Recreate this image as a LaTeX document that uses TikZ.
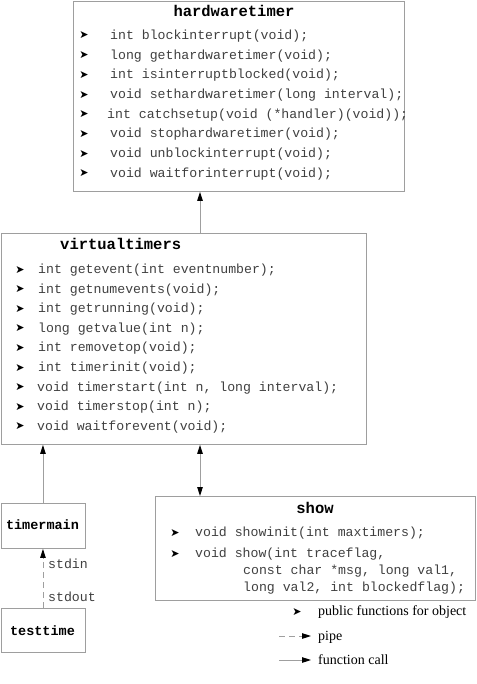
\documentclass[tikz,border=0pt]{standalone}
\usepackage{fontspec}
\setmainfont{Liberation Serif}
\setmonofont{Liberation Mono}
\newfontfamily\bulletfont{DejaVu Sans}
\usetikzlibrary{arrows.meta}
\definecolor{framegray}{gray}{0.62}
\definecolor{codegray}{gray}{0.25}

\tikzset{
  objbox/.style = {draw = framegray, line width = 0.9pt, inner sep = 0pt, anchor = north west},
  objtitle/.style = {font = \fontsize{15.5}{16}\ttfamily\bfseries, anchor = base, inner sep = 0pt},
  procname/.style = {font = \fontsize{13.5}{14}\ttfamily\bfseries, anchor = base, inner sep = 0pt},
  func/.style = {font = \fontsize{13.2}{14}\ttfamily, text = codegray, anchor = base west, inner sep = 0pt},
  bul/.style = {font = \fontsize{11}{11}\bulletfont, anchor = base, inner sep = 0pt},
  legend/.style = {font = \fontsize{14}{15}\selectfont, anchor = base west, inner sep = 0pt},
  tip/.tip = {Triangle[length = 9pt, width = 5.5pt, black]},
  call/.style = {draw = gray!75, line width = 0.9pt, -tip},
  pipe/.style = {call, dash pattern = on 6pt off 4pt},
}

\begin{document}
\begin{tikzpicture}[x = 1pt, y = -1pt]
        \useasboundingbox (0, 0) rectangle (476, 684);
        % boxes
        \node[objbox, minimum width = 331pt, minimum height = 190pt] (hw) at (73, 1) {};
        \node[objbox, minimum width = 365.5pt, minimum height = 211pt] (vt) at (0.5, 233) {};
        \node[objbox, minimum width = 84pt, minimum height = 45pt] (tm) at (0.5, 503) {};
        \node[objbox, minimum width = 84pt, minimum height = 44pt] (tt) at (0.5, 608) {};
        \node[objbox, minimum width = 320pt, minimum height = 104pt] (sh) at (155, 496) {};
        % hardwaretimer
        \node[objtitle] (hwt) at (234, 17) {hardwaretimer};
        \node[bul] (hwb1) at (84, 39) {➤};
        \node[bul] (hwb2) at (84, 58.7) {➤};
        \node[bul] (hwb3) at (84, 78.4) {➤};
        \node[bul] (hwb4) at (84, 98.1) {➤};
        \node[bul] (hwb5) at (84, 117.8) {➤};
        \node[bul] (hwb6) at (84, 137.5) {➤};
        \node[bul] (hwb7) at (84, 157.2) {➤};
        \node[bul] (hwb8) at (84, 176.9) {➤};
        \node[func] (hw1) at (110, 39.5) {int blockinterrupt(void);};
        \node[func] (hw2) at (110, 59.2) {long gethardwaretimer(void);};
        \node[func] (hw3) at (110, 78.9) {int isinterruptblocked(void);};
        \node[func] (hw4) at (110, 98.6) {void sethardwaretimer(long interval);};
        \node[func] (hw5) at (107, 118.3) {int catchsetup(void (*handler)(void));};
        \node[func] (hw6) at (110, 138) {void stophardwaretimer(void);};
        \node[func] (hw7) at (110, 157.7) {void unblockinterrupt(void);};
        \node[func] (hw8) at (110, 177.4) {void waitforinterrupt(void);};
        % virtualtimers
        \node[objtitle, anchor = base west] (vtt) at (60, 250) {virtualtimers};
        \node[bul] (vtb1) at (20, 273) {➤};
        \node[bul] (vtb2) at (20, 292.6) {➤};
        \node[bul] (vtb3) at (20, 312.2) {➤};
        \node[bul] (vtb4) at (20, 331.8) {➤};
        \node[bul] (vtb5) at (20, 351.4) {➤};
        \node[bul] (vtb6) at (20, 371) {➤};
        \node[bul] (vtb7) at (20, 390.6) {➤};
        \node[bul] (vtb8) at (20, 410.2) {➤};
        \node[bul] (vtb9) at (20, 429.8) {➤};
        \node[func] (vt1) at (38, 273.5) {int getevent(int eventnumber);};
        \node[func] (vt2) at (38, 293.1) {int getnumevents(void);};
        \node[func] (vt3) at (38, 312.7) {int getrunning(void);};
        \node[func] (vt4) at (38, 332.3) {long getvalue(int n);};
        \node[func] (vt5) at (38, 351.9) {int removetop(void);};
        \node[func] (vt6) at (38, 371.5) {int timerinit(void);};
        \node[func] (vt7) at (37, 391.1) {void timerstart(int n, long interval);};
        \node[func] (vt8) at (37, 410.7) {void timerstop(int n);};
        \node[func] (vt9) at (37, 430.3) {void waitforevent(void);};
        % show
        \node[objtitle] (sht) at (315, 513) {show};
        \node[bul] (shb1) at (175, 536) {➤};
        \node[bul] (shb2) at (175, 557) {➤};
        \node[func] (sh1) at (195, 536.5) {void showinit(int maxtimers);};
        \node[func] (sh2) at (195, 557.5) {void show(int traceflag,};
        \node[func] (sh3) at (243, 574.5) {const char *msg, long val1,};
        \node[func] (sh4) at (243, 591.5) {long val2, int blockedflag);};
        % programs
        \node[procname] (tmt) at (42.5, 529.5) {timermain};
        \node[procname] (ttt) at (42.5, 635) {testtime};
        \node[func] (stdin) at (48, 568.5) {stdin};
        \node[func] (stdout) at (48, 601.5) {stdout};
        % connectors
        \coordinate (c1) at (200, 0);
        \draw[call] (vt.north -| c1) -- (hw.south -| c1);
        \draw[call] (tm.north) -- (vt.south -| tm.north);
        \draw[call, tip-tip] (vt.south -| c1) -- (sh.north -| c1);
        \draw[pipe] (tt.north) -- (tm.south);
        % legend
        \node[bul] (lb) at (297, 615) {➤};
        \node[legend] (l1) at (318, 615.5) {public functions for object};
        \coordinate (p1) at (279, 636);
        \coordinate (p2) at (311, 636);
        \node[legend] (l2) at (318, 640) {pipe};
        \coordinate (f1) at (279, 660);
        \coordinate (f2) at (311, 660);
        \node[legend] (l3) at (318, 664) {function call};
        \draw[pipe] (p1) -- (p2);
        \draw[call] (f1) -- (f2);
      \end{tikzpicture}
\end{document}
